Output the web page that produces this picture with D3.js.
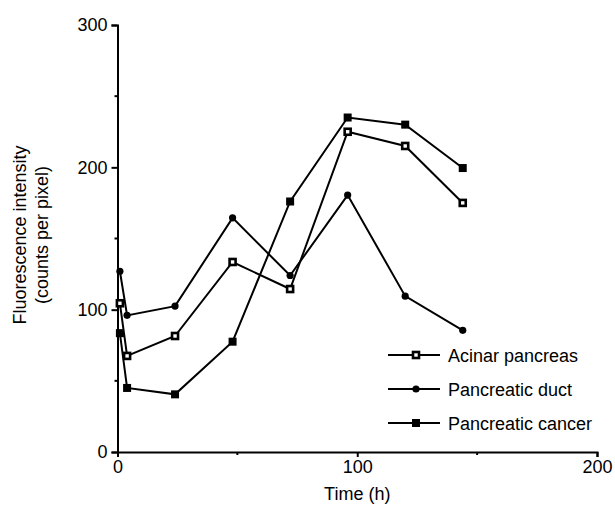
<!DOCTYPE html>
<html>
<head>
<meta charset="utf-8">
<title>Fluorescence intensity over time</title>
<script src="https://d3js.org/d3.v7.min.js"></script>
<style>
  * { margin: 0; padding: 0; }
  body { background: #fff; }
  svg { display: block; font-family: "Liberation Sans", Arial, Helvetica, sans-serif; }
</style>
</head>
<body>
<div id="chart"></div>
<script>
// time points (h)
const times = [1, 4, 24, 48, 72, 96, 120, 144];
// series values
const acinar = [104.5, 67.5, 81.5, 133.5, 114.5, 225, 215, 175];
const duct = [127, 96, 102.5, 164.5, 124, 180.5, 109.5, 85.5];
const cancer = [83.5, 45, 40.5, 77.5, 176, 235, 230, 199.5];
const seriesNames = ["Acinar pancreas", "Pancreatic duct", "Pancreatic cancer"];
const xTicks = [0, 100, 200];
const xMinor = [50, 150];
const yTicks = [0, 100, 200, 300];
const yMinor = [50, 150, 250];

const width = 615, height = 505;

const svg = d3.select("#chart").append("svg")
  .attr("width", width)
  .attr("height", height);

const x = d3.scaleLinear().domain([0, 200]).range([117.5, 597]);
const y = d3.scaleLinear().domain([0, 300]).range([452, 25]);

// axes
const xAxis = svg.append("g")
  .attr("transform", `translate(0,${y(0)})`)
  .call(d3.axisBottom(x).tickValues(xTicks).tickSize(5).tickPadding(3).tickFormat(d3.format("d")));
xAxis.append("g").selectAll("line").data(xMinor).join("line")
  .attr("x1", d => x(d)).attr("x2", d => x(d))
  .attr("y1", 0).attr("y2", 3);

const yAxis = svg.append("g")
  .attr("transform", `translate(${x(0)},0)`)
  .call(d3.axisLeft(y).tickValues(yTicks).tickSize(6).tickPadding(4).tickFormat(d3.format("d")));
yAxis.append("g").selectAll("line").data(yMinor).join("line")
  .attr("y1", d => y(d)).attr("y2", d => y(d))
  .attr("x1", 0).attr("x2", -3);

svg.selectAll(".domain").attr("stroke", "#000").attr("stroke-width", 2);
svg.selectAll(".tick line").attr("stroke", "#000").attr("stroke-width", 2);
xAxis.selectAll("g > line").attr("stroke", "#000").attr("stroke-width", 2);
yAxis.selectAll("g > line").attr("stroke", "#000").attr("stroke-width", 2);
svg.selectAll(".tick text").attr("font-size", 18).attr("fill", "#000")
  .attr("font-family", "'Liberation Sans', Arial, sans-serif");

// axis titles
svg.append("text")
  .attr("x", x(100)).attr("y", 500)
  .attr("text-anchor", "middle").attr("font-size", 18)
  .text("Time (h)");

const yTitle = svg.append("text")
  .attr("transform", "translate(0,235) rotate(-90)")
  .attr("text-anchor", "middle").attr("font-size", 18);
yTitle.append("tspan").attr("x", 0).attr("y", 26).text("Fluorescence intensity");
yTitle.append("tspan").attr("x", 0).attr("y", 48).text("(counts per pixel)");

// series
const series = [
  { name: seriesNames[0], values: acinar, marker: "open" },
  { name: seriesNames[1], values: duct, marker: "circle" },
  { name: seriesNames[2], values: cancer, marker: "square" }
];

const line = d3.line().x(d => x(d[0])).y(d => y(d[1]));

function drawMarker(g, kind, cx, cy) {
  if (kind === "open") {
    g.append("rect").attr("x", cx - 3).attr("y", cy - 3)
      .attr("width", 6).attr("height", 6)
      .attr("fill", "#fff").attr("stroke", "#000").attr("stroke-width", 2.6);
  } else if (kind === "circle") {
    g.append("circle").attr("cx", cx).attr("cy", cy).attr("r", 3.6).attr("fill", "#000");
  } else {
    g.append("rect").attr("x", cx - 4).attr("y", cy - 4)
      .attr("width", 8).attr("height", 8).attr("fill", "#000");
  }
}

series.forEach(s => {
  const pts = times.map((t, i) => [t, s.values[i]]);
  const g = svg.append("g");
  g.append("path").datum(pts)
    .attr("d", line)
    .attr("fill", "none").attr("stroke", "#000").attr("stroke-width", 2);
  pts.forEach(p => drawMarker(g, s.marker, x(p[0]), y(p[1])));
});

// legend
const legendY = [355, 389, 423];
series.forEach((s, i) => {
  const g = svg.append("g").attr("transform", `translate(0,${legendY[i]})`);
  g.append("line").attr("x1", 388).attr("x2", 440).attr("y1", 0).attr("y2", 0)
    .attr("stroke", "#000").attr("stroke-width", 2);
  drawMarker(g, s.marker, 416, 0);
  g.append("text").attr("x", 448).attr("y", 6.5).attr("font-size", 18).text(s.name);
});
</script>
</body>
</html>
